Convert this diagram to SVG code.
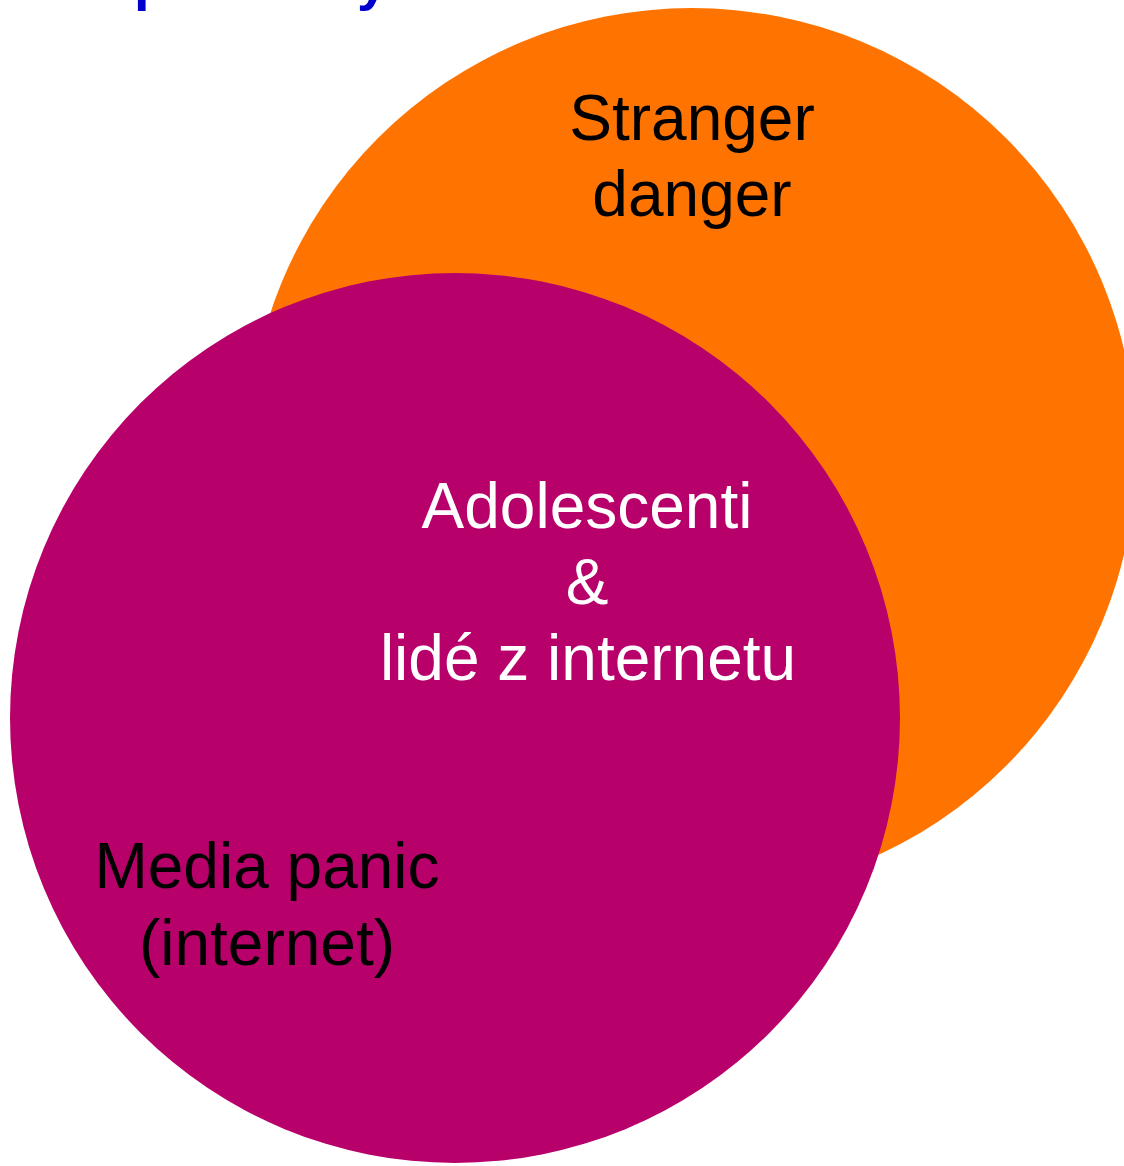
<svg xmlns="http://www.w3.org/2000/svg" width="1124" height="1166" viewBox="0 0 1124 1166">
<style>
.t{font-family:"Liberation Sans",Arial,sans-serif;font-size:64px;text-anchor:middle}
.dark{fill:#000}
.light{fill:#fff}
.title{font-family:"Liberation Sans",Arial,sans-serif;font-size:56px;font-weight:bold;fill:#0000CC}
</style>
<rect width="1124" height="1166" fill="#fff"/>
<g id="title"><text class="title" x="134" y="-1">p</text><text class="title" x="357" y="-1">y</text></g>
<g id="stranger-danger">
<circle cx="692" cy="452" r="444" fill="#FF7400"/>
<text class="t dark" x="692" y="140">Stranger</text>
<text class="t dark" x="692" y="216">danger</text>
</g>
<g id="media-panic">
<circle cx="455" cy="718" r="445" fill="#B8006B"/>
<text class="t dark" x="267" y="888">Media panic</text>
<text class="t dark" x="267" y="965">(internet)</text>
</g>
<g id="intersection">
<text class="t light" x="587" y="528">Adolescenti</text>
<text class="t light" x="587" y="604">&amp;</text>
<text class="t light" x="588" y="680">lidé z internetu</text>
</g>
<g id="connectors"/>
</svg>
